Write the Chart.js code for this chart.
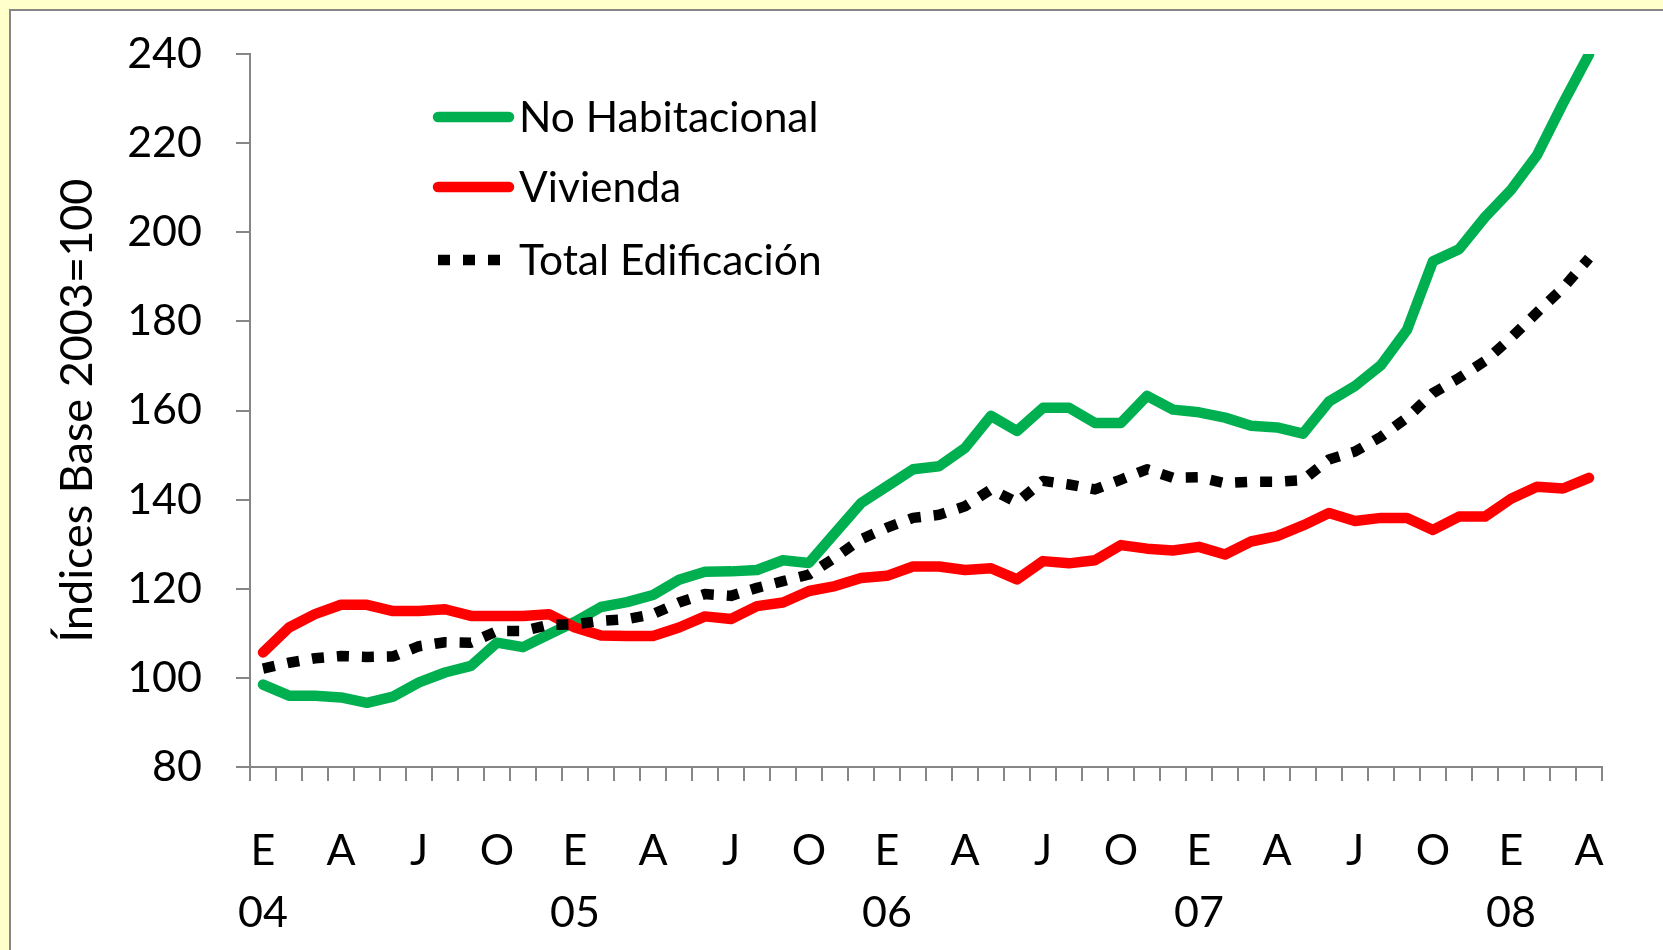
<!DOCTYPE html>
<html>
<head>
<meta charset="utf-8">
<script src="https://cdn.jsdelivr.net/npm/chart.js@4.4.1/dist/chart.umd.min.js"></script>
<style>
    html, body { margin: 0; padding: 0; }
    body { width: 1663px; height: 950px; background: #FFFFCC; position: relative; overflow: hidden; }
    #marco { position: absolute; left: 9px; top: 9px; width: 1700px; height: 1000px; background: #fff; border: 2px solid #868686; }
    #grafico { position: absolute; left: 0; top: 0; }
</style>
</head>
<body>
<div id="marco"></div>
<canvas id="grafico" width="1663" height="950"></canvas>
<script>
// Meses de enero 2004 a abril 2008
var categorias = [
    'E-04', 'F-04', 'M-04', 'A-04', 'M-04', 'J-04', 'J-04', 'A-04', 'S-04', 'O-04', 'N-04', 'D-04',
    'E-05', 'F-05', 'M-05', 'A-05', 'M-05', 'J-05', 'J-05', 'A-05', 'S-05', 'O-05', 'N-05', 'D-05',
    'E-06', 'F-06', 'M-06', 'A-06', 'M-06', 'J-06', 'J-06', 'A-06', 'S-06', 'O-06', 'N-06', 'D-06',
    'E-07', 'F-07', 'M-07', 'A-07', 'M-07', 'J-07', 'J-07', 'A-07', 'S-07', 'O-07', 'N-07', 'D-07',
    'E-08', 'F-08', 'M-08', 'A-08'
];

var noHabitacional = [
    98.5, 96, 96, 95.6, 94.4, 95.8, 99, 101.2, 102.7, 107.9, 106.9, 109.8,
    112.6, 115.9, 117, 118.6, 122, 123.8, 123.9, 124.2, 126.4, 125.8, 132.5, 139.2,
    143, 146.8, 147.5, 151.6, 158.8, 155.4, 160.6, 160.6, 157.2, 157.2, 163.3, 160.2,
    159.6, 158.4, 156.6, 156.2, 154.8, 162, 165.5, 170.2, 178.1, 193.5, 196.2, 203.4,
    209.5, 217.3, 228.9, 239.9
];

var vivienda = [
    105.7, 111.3, 114.3, 116.4, 116.4, 115, 115, 115.4, 113.9, 113.9, 113.9, 114.3,
    111.3, 109.5, 109.4, 109.4, 111.3, 113.8, 113.2, 116.1, 116.9, 119.5, 120.6, 122.4,
    122.9, 125, 125, 124.2, 124.6, 122.1, 126.2, 125.7, 126.4, 129.8, 129, 128.6,
    129.4, 127.7, 130.6, 131.8, 134.2, 137, 135.2, 135.9, 135.9, 133.2, 136.2, 136.2,
    140.2, 142.9, 142.5, 144.9
];

var totalEdificacion = [
    102.1, 103.4, 104.4, 104.9, 104.7, 104.8, 107.1, 108, 107.9, 110.5, 110.5, 111.9,
    112, 112.8, 113.2, 114.3, 116.9, 118.8, 118.4, 120.2, 121.7, 123.2, 127, 131.1,
    133.7, 135.9, 136.6, 138.5, 142.3, 139.4, 144.2, 143.4, 142.3, 144.5, 146.8, 144.9,
    145, 143.7, 144, 144, 144.4, 149, 150.8, 154.1, 158.4, 163.9, 167.3, 171.1,
    176.3, 182, 187.5, 194.2
];

var nombres = ['No Habitacional', 'Vivienda', 'Total Edificación'];
var colorEje = '#868686';
var fuente = 'Lato';

// Leyenda dibujada dentro del area del grafico
var leyendaInterna = {
    id: 'leyendaInterna',
    afterDraw: function(chart) {
        var ctx = chart.ctx;
        var filas = [117, 187, 260];
        chart.data.datasets.forEach(function(ds, i) {
            var y = filas[i];
            ctx.save();
            ctx.strokeStyle = ds.borderColor;
            ctx.lineWidth = ds.borderWidth;
            ctx.lineCap = ds.borderDash ? 'butt' : 'round';
            ctx.setLineDash(ds.borderDash || []);
            ctx.beginPath();
            ctx.moveTo(438, y);
            ctx.lineTo(ds.borderDash ? 512 : 509, y);
            ctx.stroke();
            ctx.setLineDash([]);
            ctx.fillStyle = '#000';
            ctx.font = '42.5px ' + fuente;
            ctx.textBaseline = 'alphabetic';
            ctx.textAlign = 'left';
            ctx.fillText(ds.label, 519, y + 15);
            ctx.restore();
        });
    }
};

var ctx = document.getElementById('grafico');
var grafico = new Chart(ctx, {
    type: 'line',
    data: {
        labels: categorias,
        datasets: [{
            label: nombres[0],
            data: noHabitacional,
            borderColor: '#00B050',
            borderWidth: 10.5,
            borderCapStyle: 'round',
            borderJoinStyle: 'round',
            pointRadius: 0,
            tension: 0,
            order: 3
        }, {
            label: nombres[1],
            data: vivienda,
            borderColor: '#FF0000',
            borderWidth: 10.5,
            borderCapStyle: 'round',
            borderJoinStyle: 'round',
            pointRadius: 0,
            tension: 0,
            order: 2
        }, {
            label: nombres[2],
            data: totalEdificacion,
            borderColor: '#000000',
            borderWidth: 10.5,
            borderDash: [12, 13],
            borderCapStyle: 'butt',
            borderJoinStyle: 'round',
            pointRadius: 0,
            tension: 0,
            order: 1
        }]
    },
    options: {
        responsive: false,
        animation: false,
        devicePixelRatio: 1,
        layout: { padding: { top: 54, right: 61, bottom: 0, left: 0 } },
        plugins: {
            legend: { display: false },
            tooltip: { enabled: false }
        },
        scales: {
            x: {
                offset: true,
                grid: {
                    offset: true,
                    drawOnChartArea: false,
                    drawTicks: true,
                    tickLength: 14,
                    color: colorEje,
                    lineWidth: 2
                },
                border: { color: colorEje, width: 2 },
                ticks: {
                    autoSkip: false,
                    maxRotation: 0,
                    minRotation: 0,
                    padding: 39,
                    color: '#000',
                    font: { family: fuente, size: 43, lineHeight: 1.44 },
                    callback: function(value, index) {
                        if (index % 3 !== 0) return '';
                        var cat = categorias[index];
                        var mes = cat.split('-')[0];
                        var anio = index % 12 === 0 ? cat.split('-')[1] : '';
                        return [mes, anio];
                    }
                },
                afterFit: function(scale) { scale.height = 183; }
            },
            y: {
                min: 80,
                max: 240,
                grid: {
                    drawOnChartArea: false,
                    drawTicks: true,
                    tickLength: 14,
                    color: colorEje,
                    lineWidth: 2
                },
                border: { color: colorEje, width: 2 },
                ticks: {
                    stepSize: 20,
                    padding: 34,
                    color: '#000',
                    font: { family: fuente, size: 43 }
                },
                title: {
                    display: true,
                    text: 'Índices Base 2003=100',
                    color: '#000',
                    font: { family: fuente, size: 45, lineHeight: 1.2 },
                    padding: { top: 50, bottom: 0 }
                },
                afterFit: function(scale) {
                    scale.width = 250;
                    scale.paddingTop = 0;
                    scale.paddingBottom = 0;
                }
            }
        }
    },
    plugins: [leyendaInterna]
});
</script>
</body>
</html>
